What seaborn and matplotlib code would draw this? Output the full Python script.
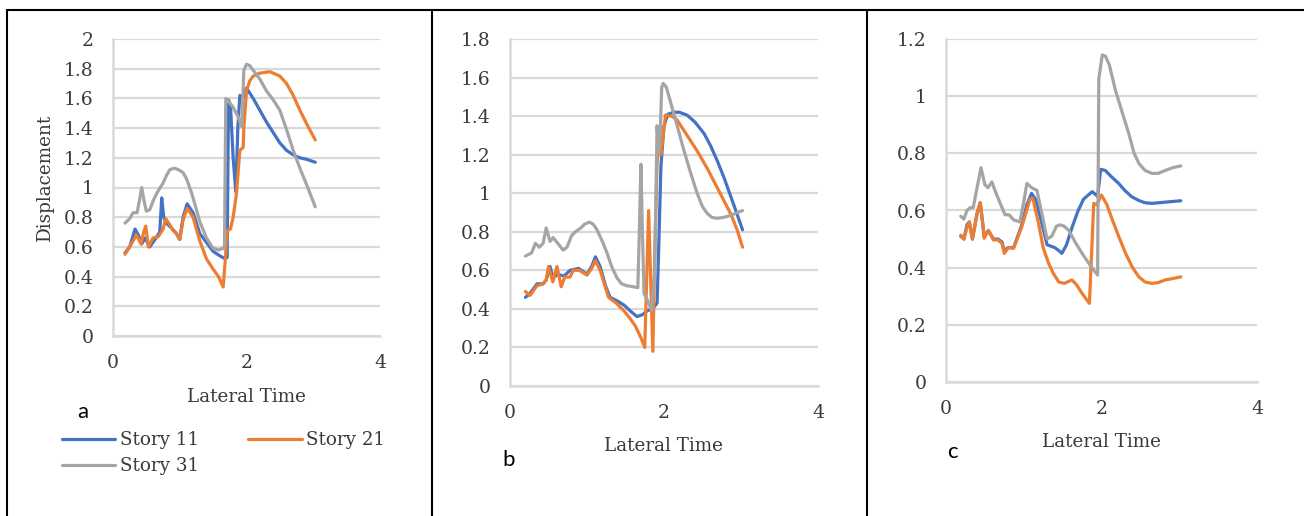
import numpy as np
import pandas as pd
import matplotlib
matplotlib.use("Agg")
import matplotlib.pyplot as plt
from matplotlib.lines import Line2D
import seaborn as sns

# ---------------- data ----------------
stories = ["Story 11", "Story 21", "Story 31"]
colors = {"Story 11": "#4472C4", "Story 21": "#ED7D31", "Story 31": "#A5A5A5"}

# Panel a
a_s11_t = [0.18, 0.25, 0.33, 0.38, 0.43, 0.48, 0.55, 0.63, 0.70, 0.73, 0.76, 0.80, 0.87, 0.95, 1.00,
           1.05, 1.11, 1.20, 1.30, 1.40, 1.50, 1.60, 1.68, 1.71, 1.73, 1.76, 1.80, 1.84, 1.87, 1.90,
           1.95, 2.00, 2.10, 2.20, 2.30, 2.40, 2.50, 2.60, 2.70, 2.80, 2.90, 3.03]
a_s11_d = [0.56, 0.60, 0.72, 0.68, 0.62, 0.66, 0.60, 0.65, 0.70, 0.93, 0.80, 0.76, 0.73, 0.69, 0.65,
           0.80, 0.89, 0.83, 0.69, 0.63, 0.57, 0.54, 0.52, 0.53, 1.59, 1.55, 1.20, 0.97, 1.40, 1.62,
           1.60, 1.67, 1.60, 1.52, 1.44, 1.37, 1.30, 1.25, 1.22, 1.20, 1.19, 1.17]
a_s21_t = [0.18, 0.25, 0.35, 0.42, 0.46, 0.49, 0.53, 0.60, 0.68, 0.75, 0.79, 0.85, 0.90, 0.95, 1.00,
           1.05, 1.11, 1.20, 1.30, 1.40, 1.50, 1.58, 1.65, 1.68, 1.71, 1.76, 1.80, 1.85, 1.90, 1.95,
           1.96, 2.00, 2.05, 2.10, 2.20, 2.35, 2.50, 2.60, 2.70, 2.80, 2.90, 3.03]
a_s21_d = [0.55, 0.60, 0.68, 0.62, 0.70, 0.74, 0.60, 0.66, 0.67, 0.72, 0.79, 0.75, 0.71, 0.69, 0.65,
           0.78, 0.86, 0.80, 0.64, 0.52, 0.45, 0.40, 0.33, 0.50, 0.71, 0.72, 0.80, 0.96, 1.25, 1.27,
           1.40, 1.65, 1.72, 1.75, 1.77, 1.78, 1.75, 1.70, 1.62, 1.52, 1.43, 1.32]
a_s31_t = [0.18, 0.25, 0.30, 0.36, 0.40, 0.43, 0.47, 0.50, 0.55, 0.62, 0.68, 0.75, 0.80, 0.85, 0.92,
           0.98, 1.05, 1.10, 1.18, 1.25, 1.30, 1.40, 1.50, 1.58, 1.65, 1.67, 1.69, 1.75, 1.80, 1.87,
           1.93, 1.96, 2.00, 2.05, 2.10, 2.20, 2.30, 2.40, 2.50, 2.60, 2.70, 2.80, 2.90, 3.03]
a_s31_d = [0.76, 0.79, 0.83, 0.83, 0.92, 1.00, 0.90, 0.84, 0.85, 0.93, 0.98, 1.03, 1.08, 1.12, 1.13,
           1.12, 1.10, 1.06, 0.96, 0.85, 0.77, 0.66, 0.59, 0.58, 0.59, 0.60, 1.60, 1.57, 1.54, 1.48,
           1.41, 1.79, 1.83, 1.82, 1.79, 1.73, 1.65, 1.59, 1.52, 1.39, 1.25, 1.13, 1.02, 0.87]

# Panel b
b_s11_t = [0.20, 0.26, 0.35, 0.43, 0.47, 0.52, 0.56, 0.62, 0.70, 0.78, 0.89, 1.00, 1.06, 1.11, 1.17,
           1.24, 1.30, 1.40, 1.48, 1.56, 1.65, 1.72, 1.78, 1.85, 1.91, 1.93, 1.96, 2.00, 2.05, 2.13,
           2.20, 2.30, 2.40, 2.52, 2.60, 2.69, 2.78, 2.87, 2.95, 3.02]
b_s11_d = [0.46, 0.48, 0.53, 0.53, 0.55, 0.62, 0.56, 0.58, 0.57, 0.60, 0.61, 0.58, 0.62, 0.67, 0.62,
           0.52, 0.46, 0.44, 0.42, 0.39, 0.36, 0.37, 0.39, 0.40, 0.43, 0.70, 1.14, 1.35, 1.41, 1.42,
           1.42, 1.405, 1.37, 1.31, 1.25, 1.17, 1.08, 0.98, 0.89, 0.81]
b_s21_t = [0.20, 0.26, 0.35, 0.43, 0.47, 0.50, 0.556, 0.61, 0.665, 0.71, 0.78, 0.82, 0.90, 1.00, 1.06,
           1.11, 1.17, 1.28, 1.38, 1.48, 1.56, 1.63, 1.70, 1.75, 1.80, 1.855, 1.88, 1.91, 1.945, 1.96,
           2.02, 2.10, 2.17, 2.30, 2.43, 2.56, 2.69, 2.78, 2.87, 2.95, 3.02]
b_s21_d = [0.49, 0.47, 0.52, 0.53, 0.55, 0.62, 0.54, 0.62, 0.515, 0.565, 0.565, 0.60, 0.60, 0.575, 0.61,
           0.65, 0.60, 0.46, 0.43, 0.39, 0.35, 0.31, 0.25, 0.20, 0.91, 0.18, 0.70, 1.155, 1.29, 1.20,
           1.405, 1.40, 1.38, 1.30, 1.22, 1.13, 1.03, 0.96, 0.89, 0.81, 0.72]
b_s31_t = [0.20, 0.28, 0.33, 0.38, 0.43, 0.47, 0.52, 0.56, 0.62, 0.69, 0.74, 0.80, 0.85, 0.92, 0.97,
           1.03, 1.08, 1.13, 1.20, 1.26, 1.32, 1.39, 1.45, 1.52, 1.60, 1.66, 1.68, 1.70, 1.72, 1.74,
           1.78, 1.84, 1.88, 1.91, 1.93, 1.95, 1.97, 1.99, 2.03, 2.08, 2.15, 2.26, 2.35, 2.43, 2.50,
           2.56, 2.62, 2.69, 2.78, 2.87, 2.95, 3.02]
b_s31_d = [0.674, 0.69, 0.74, 0.72, 0.74, 0.82, 0.75, 0.77, 0.74, 0.705, 0.72, 0.78, 0.80, 0.82, 0.84,
           0.85, 0.84, 0.81, 0.75, 0.69, 0.62, 0.56, 0.53, 0.52, 0.515, 0.51, 0.80, 1.15, 0.80, 0.48,
           0.45, 0.39, 0.60, 1.35, 1.21, 1.30, 1.55, 1.57, 1.55, 1.48, 1.38, 1.22, 1.10, 1.00, 0.93,
           0.896, 0.875, 0.87, 0.875, 0.885, 0.90, 0.91]

# Panel c
c_s11_t = [0.19, 0.23, 0.27, 0.30, 0.34, 0.40, 0.44, 0.47, 0.49, 0.545, 0.61, 0.67, 0.72, 0.75, 0.80,
           0.87, 0.975, 1.04, 1.10, 1.15, 1.21, 1.30, 1.35, 1.40, 1.45, 1.49, 1.55, 1.62, 1.70, 1.77,
           1.88, 1.95, 1.99, 2.05, 2.12, 2.22, 2.30, 2.39, 2.48, 2.56, 2.65, 2.73, 2.85, 3.02]
c_s11_d = [0.51, 0.50, 0.55, 0.56, 0.50, 0.59, 0.627, 0.56, 0.51, 0.53, 0.50, 0.50, 0.49, 0.46, 0.47,
           0.47, 0.55, 0.62, 0.66, 0.64, 0.58, 0.48, 0.475, 0.47, 0.46, 0.45, 0.48, 0.54, 0.60, 0.64,
           0.666, 0.65, 0.744, 0.74, 0.72, 0.695, 0.67, 0.648, 0.635, 0.627, 0.625, 0.627, 0.63, 0.634]
c_s21_t = [0.19, 0.23, 0.27, 0.30, 0.34, 0.40, 0.44, 0.47, 0.49, 0.545, 0.61, 0.67, 0.72, 0.75, 0.80,
           0.87, 0.975, 1.08, 1.12, 1.19, 1.25, 1.32, 1.38, 1.45, 1.52, 1.62, 1.68, 1.75, 1.845, 1.90,
           1.94, 2.00, 2.07, 2.14, 2.22, 2.31, 2.40, 2.48, 2.56, 2.65, 2.73, 2.82, 2.92, 3.02]
c_s21_d = [0.514, 0.50, 0.54, 0.56, 0.50, 0.59, 0.627, 0.56, 0.503, 0.53, 0.497, 0.497, 0.485, 0.45, 0.47,
           0.468, 0.543, 0.64, 0.64, 0.555, 0.47, 0.415, 0.38, 0.35, 0.345, 0.357, 0.34, 0.31, 0.275, 0.625,
           0.62, 0.654, 0.62, 0.567, 0.51, 0.45, 0.40, 0.368, 0.35, 0.345, 0.348, 0.357, 0.362, 0.368]
c_s31_t = [0.19, 0.23, 0.27, 0.31, 0.35, 0.40, 0.45, 0.50, 0.54, 0.59, 0.63, 0.675, 0.72, 0.76, 0.81,
           0.87, 0.95, 1.00, 1.04, 1.10, 1.17, 1.24, 1.30, 1.36, 1.42, 1.47, 1.52, 1.58, 1.66, 1.75,
           1.85, 1.95, 1.965, 2.01, 2.05, 2.10, 2.18, 2.27, 2.35, 2.42, 2.48, 2.56, 2.65, 2.73, 2.82,
           2.92, 3.02]
c_s31_d = [0.58, 0.57, 0.60, 0.61, 0.61, 0.68, 0.75, 0.69, 0.68, 0.70, 0.67, 0.64, 0.61, 0.585, 0.585,
           0.567, 0.56, 0.63, 0.695, 0.68, 0.67, 0.58, 0.50, 0.51, 0.545, 0.55, 0.545, 0.53, 0.49, 0.45,
           0.41, 0.374, 1.06, 1.144, 1.14, 1.11, 1.02, 0.94, 0.87, 0.80, 0.765, 0.74, 0.73, 0.73, 0.74,
           0.75, 0.756]

panel_letters = ["a", "b", "c"]
y_max = [2.0, 1.8, 1.2]
x_ticks = [0, 2, 4]


def long_frame(series):
    rows = []
    for name, t, d in series:
        for ti, di in zip(t, d):
            rows.append((name, ti, di))
    return pd.DataFrame(rows, columns=["Story", "Lateral Time", "Displacement"])


panels = [
    long_frame([("Story 11", a_s11_t, a_s11_d), ("Story 21", a_s21_t, a_s21_d), ("Story 31", a_s31_t, a_s31_d)]),
    long_frame([("Story 11", b_s11_t, b_s11_d), ("Story 21", b_s21_t, b_s21_d), ("Story 31", b_s31_t, b_s31_d)]),
    long_frame([("Story 11", c_s11_t, c_s11_d), ("Story 21", c_s21_t, c_s21_d), ("Story 31", c_s31_t, c_s31_d)]),
]

# ---------------- layout ----------------
W, H = 1304, 516
sns.set_theme(style="white")
plt.rcParams["font.family"] = ["DejaVu Serif"]

fig = plt.figure(figsize=(W / 100, H / 100), dpi=100)


def fx(px):
    return px / W


def fy(py):
    return 1 - py / H


# axes boxes in pixels: left, right, top, bottom
boxes = [(113, 380, 39, 336), (510, 818, 39, 386), (946, 1257, 39, 382)]
xlabel_y = [397, 446, 442]
letter_pos = [(77, 412), (502, 460), (947, 452)]
grid_col = "#d9d9d9"
text_col = "#3a3a3a"

axes = []
for i, (l, r, t, b) in enumerate(boxes):
    ax = fig.add_axes([fx(l), fy(b), (r - l) / W, (b - t) / H])
    axes.append(ax)
    sns.lineplot(data=panels[i], x="Lateral Time", y="Displacement", hue="Story",
                 hue_order=stories, palette=colors, sort=False, estimator=None,
                 linewidth=2.3, legend=False, ax=ax)
    ax.set_xlim(0, 4)
    ax.set_ylim(0, y_max[i])
    ax.set_xticks(x_ticks)
    ax.set_xticklabels([str(v) for v in x_ticks])
    yt = np.round(np.arange(0, y_max[i] + 0.001, 0.2), 1)
    ax.set_yticks(yt)
    ax.set_yticklabels([("%g" % v) for v in yt])
    ax.yaxis.grid(True, color=grid_col, linewidth=1.6)
    ax.xaxis.grid(False)
    ax.set_axisbelow(True)
    for s in ["top", "right"]:
        ax.spines[s].set_visible(False)
    for s in ["left", "bottom"]:
        ax.spines[s].set_color(grid_col)
        ax.spines[s].set_linewidth(1.8)
    ax.tick_params(axis="both", length=0, labelsize=13.5, colors=text_col)
    ax.tick_params(axis="y", pad=14)
    ax.tick_params(axis="x", pad=13)
    ax.set_xlabel("Lateral Time", fontsize=13.2, color=text_col)
    ax.xaxis.set_label_coords(0.5, (b - xlabel_y[i]) / (b - t))
    ax.xaxis.label.set_va("center")
    ax.set_ylabel("")
    lx, ly = letter_pos[i]
    fig.text(fx(lx), fy(ly), panel_letters[i], fontsize=16, family=["Lato", "DejaVu Sans"],
             ha="left", va="center", color="black")

axes[0].set_ylabel("Displacement", fontsize=13.2, color=text_col)
axes[0].yaxis.set_label_coords((45 - 113) / (380 - 113), (336 - 177) / (336 - 39))
axes[0].yaxis.label.set_va("center")

# legend below panel a
lines = axes[0].get_lines()[:3]
handles = [lines[0], lines[2], lines[1]]
labels = ["Story 11", "Story 31", "Story 21"]
fig.legend(handles, labels, loc="upper left", bbox_to_anchor=(fx(62), fy(431)), ncol=2,
           frameon=False, fontsize=13.2, handlelength=2.9, handletextpad=0.25,
           columnspacing=2.7, labelspacing=0.45, borderaxespad=0, borderpad=0,
           labelcolor=text_col)

# panel frame lines
frame_kw = dict(color="black", linewidth=1.5, transform=fig.transFigure)
fig.add_artist(Line2D([fx(7), 1], [fy(10), fy(10)], **frame_kw))
for xp in (7, 432, 867):
    fig.add_artist(Line2D([fx(xp), fx(xp)], [fy(10), 0], **frame_kw))

fig.savefig("out.png", dpi=100, facecolor="white")
